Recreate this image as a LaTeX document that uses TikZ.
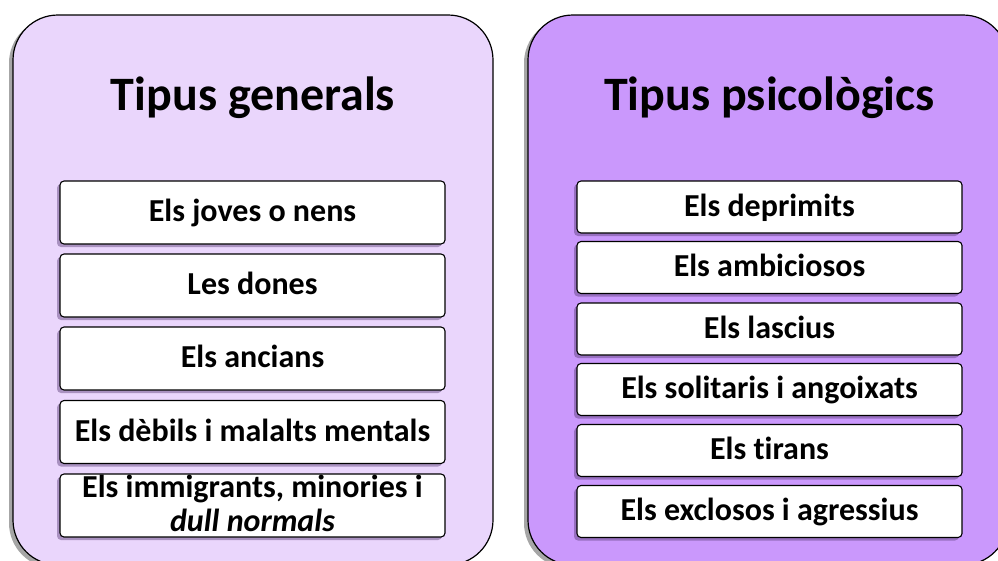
\documentclass[tikz,border=0pt]{standalone}
\usepackage{fontspec}
\setmainfont{Carlito}[Ligatures=NoCommon]
\usetikzlibrary{shadows}
\definecolor{lav}{HTML}{EAD6FC}
\definecolor{vio}{HTML}{CA98FC}
\definecolor{shd}{HTML}{5A3F78}
\tikzset{
  outerbox/.style={draw=black, line width=1.2pt, rounded corners=45pt,
    minimum width=480pt, minimum height=550pt, inner sep=0pt,
    drop shadow={shadow xshift=-4pt, shadow yshift=-3pt, fill=black, opacity=0.35}},
  titletext/.style={font=\bfseries\fontsize{48}{56}\selectfont, inner sep=0pt},
  itemL/.style={draw=black, fill=white, line width=1.1pt, rounded corners=4pt,
    minimum width=385pt, minimum height=63pt, inner sep=0pt, align=center,
    text height=18.4pt, text depth=0pt,
    font=\bfseries\fontsize{32}{39}\selectfont,
    drop shadow={shadow xshift=-3pt, shadow yshift=-3pt, fill=shd, opacity=0.45}},
  itemR/.style={itemL, minimum height=52pt}
}
\begin{document}
\begin{tikzpicture}[x=1pt,y=-1pt]
\useasboundingbox (0,0) rectangle (998,560);
\clip (0,0) rectangle (998,560);
\node[outerbox, fill=lav] (L) at (253,290) {};
\node[outerbox, fill=vio] (R) at (768,290) {};
\node[titletext, anchor=base] (Lt) at (253,110) {Tipus generals};
\node[titletext, anchor=base] (Rt) at (769.5,110) {Tipus psicològics};
\node[itemL] (l1) at (252.5,212.5) {Els joves o nens};
\node[itemL] (l2) at (252.5,285.5) {Les dones};
\node[itemL] (l3) at (252.5,358.5) {Els ancians};
\node[itemL] (l4) at (252.5,432) {Els dèbils i malalts mentals};
\node[itemL, text height=57.5pt, text depth=5.5pt, font=\bfseries\fontsize{32}{34.5}\selectfont] (l5) at (252.5,505.5) {Els immigrants, minories i\\\textit{dull normals}};
\node[itemR] (r1) at (769.5,207) {Els deprimits};
\node[itemR] (r2) at (769.5,267.5) {Els ambiciosos};
\node[itemR] (r3) at (769.5,329) {Els lascius};
\node[itemR] (r4) at (769.5,389.5) {Els solitaris i angoixats};
\node[itemR] (r5) at (769.5,450.5) {Els tirans};
\node[itemR] (r6) at (769.5,511.5) {Els exclosos i agressius};
\end{tikzpicture}
\end{document}
